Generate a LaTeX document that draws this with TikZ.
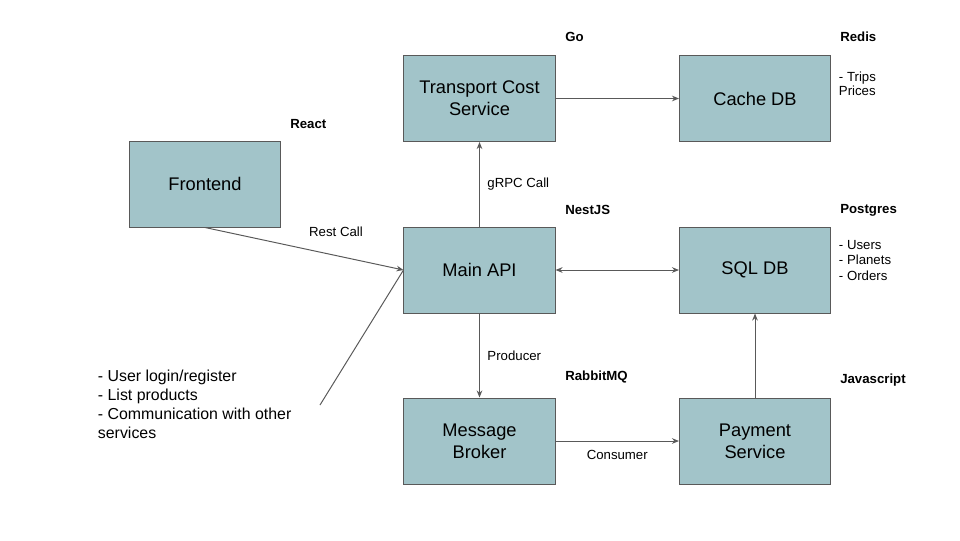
\documentclass[tikz,border=0pt]{standalone}
\usepackage{fontspec}
\setmainfont{Liberation Sans}
\usetikzlibrary{arrows.meta}

\definecolor{boxfill}{HTML}{A2C4C9}
\definecolor{edgegray}{HTML}{595959}

\tikzset{
    svcbox/.style={draw=edgegray, fill=boxfill, line width=0.7pt, minimum width=3.775cm, minimum height=2.15cm, align=center, font=\fontsize{13}{15.5}\selectfont},
    techlabel/.style={anchor=west, inner xsep=0pt, font=\fontsize{9.4}{11}\selectfont\bfseries},
    notelabel/.style={anchor=north west, align=left, font=\fontsize{9.4}{11.3}\selectfont},
    linklabel/.style={font=\fontsize{9.4}{11}\selectfont},
    link/.style={draw=edgegray, line width=0.7pt},
}

\begin{document}
\begin{tikzpicture}[x=0.025cm, y=-0.025cm]
    \useasboundingbox (0,0) rectangle (960,540);

    \node [svcbox] (frontend) at (205,184) {Frontend};
    \node [svcbox] (transport) at (479.5,98.5) {Transport Cost\\Service};
    \node [svcbox] (cache) at (755,98.5) {Cache DB};
    \node [svcbox] (mainapi) at (479.5,270) {Main API};
    \node [svcbox] (sqldb) at (755,270) {SQL DB};
    \node [svcbox] (broker) at (479.5,441) {Message\\Broker};
    \node [svcbox] (payment) at (755,441) {Payment\\Service};

    \node [techlabel] (react) at (290,124) {React};
    \node [techlabel] (go) at (565,37) {Go};
    \node [techlabel] (redis) at (840,37) {Redis};
    \node [techlabel] (nestjs) at (565,210) {NestJS};
    \node [techlabel] (postgres) at (840,210) {Postgres};
    \node [techlabel] (rabbitmq) at (565,377) {RabbitMQ};
    \node [techlabel] (javascript) at (840,380) {Javascript};

    \node [notelabel, font=\fontsize{9.4}{10}\selectfont] (cachenote) at (834,67) {- Trips\\Prices};
    \node [notelabel] (sqlnote) at (834,235) {- Users\\- Planets\\- Orders};
    \node [notelabel, font=\fontsize{11.3}{13.6}\selectfont] (apinote) at (93,365) {- User login/register\\- List products\\- Communication with other\\services};

    \coordinate (notetip) at (320,405);

    \draw [link, -{Stealth[length=5pt, width=4pt]}] (frontend.south) -- (mainapi.west);
    \node [linklabel] (restcall) at (336,232) {Rest Call};
    \draw [link, -{Stealth[length=5pt, width=4pt]}] (mainapi.north) -- (transport.south) node [linklabel, midway, right, xshift=2pt] (grpc) {gRPC Call};
    \draw [link, -{Stealth[length=5pt, width=4pt]}] (transport.east) -- (cache.west);
    \draw [link, {Stealth[length=5pt, width=4pt]}-{Stealth[length=5pt, width=4pt]}] (mainapi.east) -- (sqldb.west);
    \draw [link, -{Stealth[length=5pt, width=4pt]}] (mainapi.south) -- (broker.north) node [linklabel, midway, right, xshift=2pt] (producer) {Producer};
    \draw [link, -{Stealth[length=5pt, width=4pt]}] (broker.east) -- (payment.west) node [linklabel, midway, below, yshift=-3pt] (consumer) {Consumer};
    \draw [link, -{Stealth[length=5pt, width=4pt]}] (payment.north) -- (sqldb.south);
    \draw [link] (notetip) -- (mainapi.west);
\end{tikzpicture}
\end{document}
